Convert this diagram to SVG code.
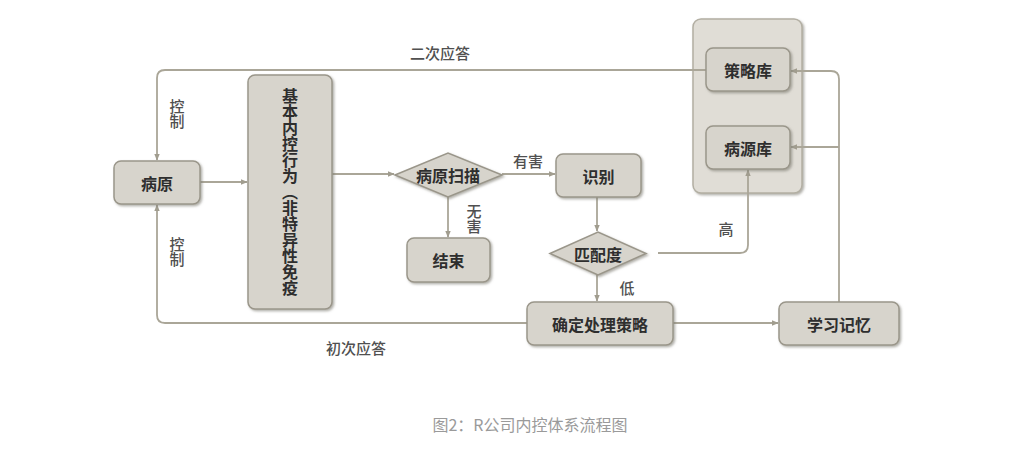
<svg xmlns="http://www.w3.org/2000/svg" width="1032" height="461" viewBox="0 0 1032 461">
<defs>
<filter id="sh" x="-10%" y="-10%" width="130%" height="130%"><feDropShadow dx="1.5" dy="1.5" stdDeviation="1" flood-color="#7d7a70" flood-opacity="0.6"/></filter>
<marker id="ar" viewBox="0 0 10 10" refX="9" refY="5" markerWidth="7" markerHeight="7" orient="auto" markerUnits="userSpaceOnUse"><path d="M0,1 L10,5 L0,9 Z" fill="#a19d8f"/></marker>
</defs>
<style>
.n{fill:#d7d4cc;stroke:#9a968a;stroke-width:1.5;filter:url(#sh)}
.c{fill:#e0ddd6;stroke:#b3afa3;stroke-width:1.5;filter:url(#sh)}
.t{font-family:"Noto Sans CJK SC","Noto Sans",sans-serif;font-size:16px;font-weight:bold;fill:#2e2e2e;text-anchor:middle;dominant-baseline:central}
.l{font-family:"Noto Sans CJK SC","Noto Sans",sans-serif;font-size:15px;font-weight:500;fill:#505050;text-anchor:middle;dominant-baseline:central}
.v{writing-mode:vertical-rl}
.e{fill:none;stroke:#aaa698;stroke-width:1.8}
</style>
<rect width="1032" height="461" fill="#ffffff"/>
<g id="container"><rect class="c" x="693" y="19" width="109" height="174" rx="8"/></g>
<g id="connectors">
<path class="e" d="M706,70 L165,70 Q157,70 157,78 L157,160" marker-end="url(#ar)"/>
<path class="e" d="M527,323 L165,323 Q157,323 157,315 L157,205" marker-end="url(#ar)"/>
<path class="e" d="M200,182 L247,182" marker-end="url(#ar)"/>
<path class="e" d="M332,174 L394,174" marker-end="url(#ar)"/>
<path class="e" d="M502,174 L555,174" marker-end="url(#ar)"/>
<path class="e" d="M448,197 L448,237" marker-end="url(#ar)"/>
<path class="e" d="M597,197 L597,231" marker-end="url(#ar)"/>
<path class="e" d="M597,275 L597,301" marker-end="url(#ar)"/>
<path class="e" d="M658,253 L740,253 Q748,253 748,245 L748,170" marker-end="url(#ar)"/>
<path class="e" d="M673,323 L778,323" marker-end="url(#ar)"/>
<path class="e" d="M839,302 L839,79 Q839,71 831,71 L791,71" marker-end="url(#ar)"/>
<path class="e" d="M839,147 L791,147" marker-end="url(#ar)"/>
</g>
<g id="celue"><rect class="n" x="706" y="48" width="84" height="43" rx="7"/><text class="t" x="748" y="69.5">策略库</text></g>
<g id="bingyuanku"><rect class="n" x="706" y="126" width="84" height="43" rx="7"/><text class="t" x="748" y="147.5">病源库</text></g>
<g id="bingyuan"><rect class="n" x="114" y="161" width="86" height="43" rx="7"/><text class="t" x="157" y="182.5">病原</text></g>
<g id="jiben"><rect class="n" x="248" y="75" width="84" height="234" rx="7"/><text class="t v" x="290" y="192">基本内控行为（非特异性免疫</text></g>
<g id="saomiao"><path class="n" d="M395,175 L448,153 L502,175 L448,197 Z"/><text class="t" x="448" y="175">病原扫描</text></g>
<g id="jieshu"><rect class="n" x="407" y="238" width="83" height="44" rx="7"/><text class="t" x="448.5" y="260">结束</text></g>
<g id="shibie"><rect class="n" x="556" y="154" width="85" height="43" rx="7"/><text class="t" x="598.5" y="175.5">识别</text></g>
<g id="pipeidu"><path class="n" d="M550,253.5 L598,232 L646,253.5 L598,275 Z"/><text class="t" x="598" y="253.5">匹配度</text></g>
<g id="queding"><rect class="n" x="527" y="302" width="146" height="43" rx="7"/><text class="t" x="600" y="323.5">确定处理策略</text></g>
<g id="xuexi"><rect class="n" x="779" y="302" width="120" height="43" rx="7"/><text class="t" x="839" y="323.5">学习记忆</text></g>
<g id="labels">
<text class="l" x="440" y="52">二次应答</text>
<text class="l" x="356" y="347">初次应答</text>
<text class="l v" x="177" y="114">控制</text>
<text class="l v" x="177" y="252">控制</text>
<text class="l" x="528" y="160">有害</text>
<text class="l v" x="474" y="219">无害</text>
<text class="l" x="726" y="228">高</text>
<text class="l" x="627" y="287">低</text>
<text x="530" y="424" font-family="'Noto Sans CJK SC','Noto Sans',sans-serif" font-size="16" fill="#9a9a9a" text-anchor="middle" dominant-baseline="central">图2：R公司内控体系流程图</text>
</g>
</svg>
